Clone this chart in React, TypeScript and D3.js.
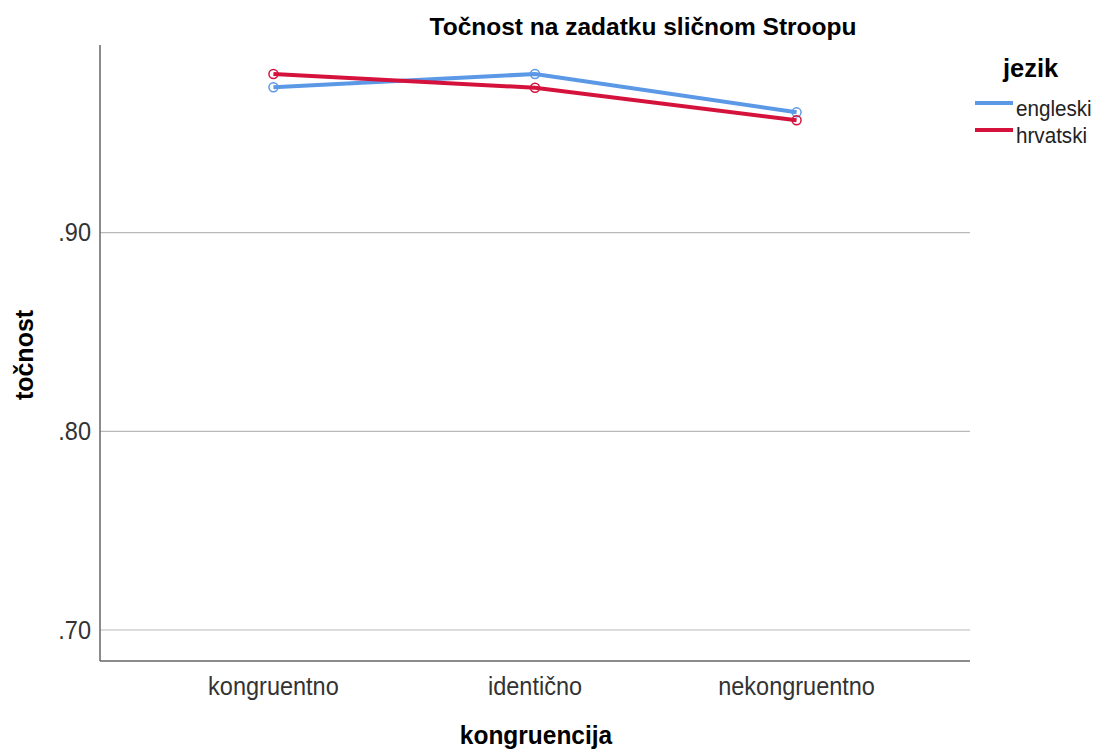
import React from 'react';
import * as d3 from 'd3';

const categories = ['kongruentno', 'identično', 'nekongruentno'];
const seriesNames = ['engleski', 'hrvatski'];
const engleski = [0.9732, 0.9799, 0.9606];
const hrvatski = [0.9799, 0.973, 0.9566];
const yTicks = [0.7, 0.8, 0.9];
const colors = ['#5b98e6', '#d5123c'];

const W = 1096;
const H = 751;
const margin = { top: 45, right: 126, bottom: 90, left: 100 };
// the lettering in the reference is a touch narrower than Liberation Sans
const SX = 0.94;

export default function App() {
    const innerW = W - margin.left - margin.right;
    const innerH = H - margin.top - margin.bottom;

    const x = d3.scalePoint<string>().domain(categories).range([0, innerW]).padding(0.663);
    const y = d3.scaleLinear().domain([0.6844, 0.9945]).range([innerH, 0]);

    const line = d3
        .line<number>()
        .x((d, i) => x(categories[i]) as number)
        .y((d) => y(d));

    const series = [engleski, hrvatski];
    const font = '"Liberation Sans", Arial, sans-serif';

    return (
        <svg
            width={W}
            height={H}
            style={{ position: 'absolute', left: 0, top: 0, background: '#fff' }}
            fontFamily={font}
        >
            <text x={643} y={35} textAnchor="middle" fontWeight="bold" fontSize={24.5} fill="#000">
                Točnost na zadatku sličnom Stroopu
            </text>
            <g transform={`translate(${margin.left},${margin.top})`}>
                {/* gridlines */}
                {yTicks.map((t) => (
                    <line key={t} x1={0} x2={innerW} y1={y(t)} y2={y(t)} stroke="#b9b9b9" strokeWidth={1.2} />
                ))}
                {/* axes */}
                <line x1={0} x2={0} y1={0} y2={innerH} stroke="#666" strokeWidth={1.5} />
                <line x1={0} x2={innerW} y1={innerH} y2={innerH} stroke="#666" strokeWidth={1.5} />
                {yTicks.map((t) => (
                    <text
                        key={t}
                        transform={`translate(-9,${y(t)}) scale(${SX},1)`}
                        dy="0.35em"
                        textAnchor="end"
                        fontSize={25}
                        fill="#333"
                    >
                        {d3.format('.2f')(t).replace(/^0/, '')}
                    </text>
                ))}
                {categories.map((c) => (
                    <text
                        key={c}
                        transform={`translate(${x(c)},${innerH + 34}) scale(${SX},1)`}
                        textAnchor="middle"
                        fontSize={25}
                        fill="#333"
                    >
                        {c}
                    </text>
                ))}
                {/* lines */}
                {series.map((s, i) => (
                    <path key={i} d={line(s) || ''} fill="none" stroke={colors[i]} strokeWidth={4} />
                ))}
                {series.map((s, i) =>
                    s.map((v, j) => (
                        <circle
                            key={`${i}-${j}`}
                            cx={x(categories[j])}
                            cy={y(v)}
                            r={4.5}
                            fill="none"
                            stroke={colors[i]}
                            strokeWidth={1.5}
                        />
                    ))
                )}
            </g>
            <text
                transform={`translate(33,${margin.top + innerH / 2 + 2}) rotate(-90) scale(0.98,1)`}
                textAnchor="middle"
                fontWeight="bold"
                fontSize={25.5}
                fill="#000"
            >
                točnost
            </text>
            <text
                transform={`translate(536,744) scale(0.96,1)`}
                textAnchor="middle"
                fontWeight="bold"
                fontSize={25.5}
                fill="#000"
            >
                kongruencija
            </text>
            {/* legend */}
            <text x={1003} y={77} fontWeight="bold" fontSize={25.5} fill="#000">
                jezik
            </text>
            {seriesNames.map((n, i) => (
                <g key={n} transform={`translate(975,${103 + i * 27})`}>
                    <line x1={0} x2={38} y1={0} y2={0} stroke={colors[i]} strokeWidth={4} />
                    <text transform="translate(41,13) scale(0.96,1)" fontSize={21.5} fill="#222">
                        {n}
                    </text>
                </g>
            ))}
        </svg>
    );
}
